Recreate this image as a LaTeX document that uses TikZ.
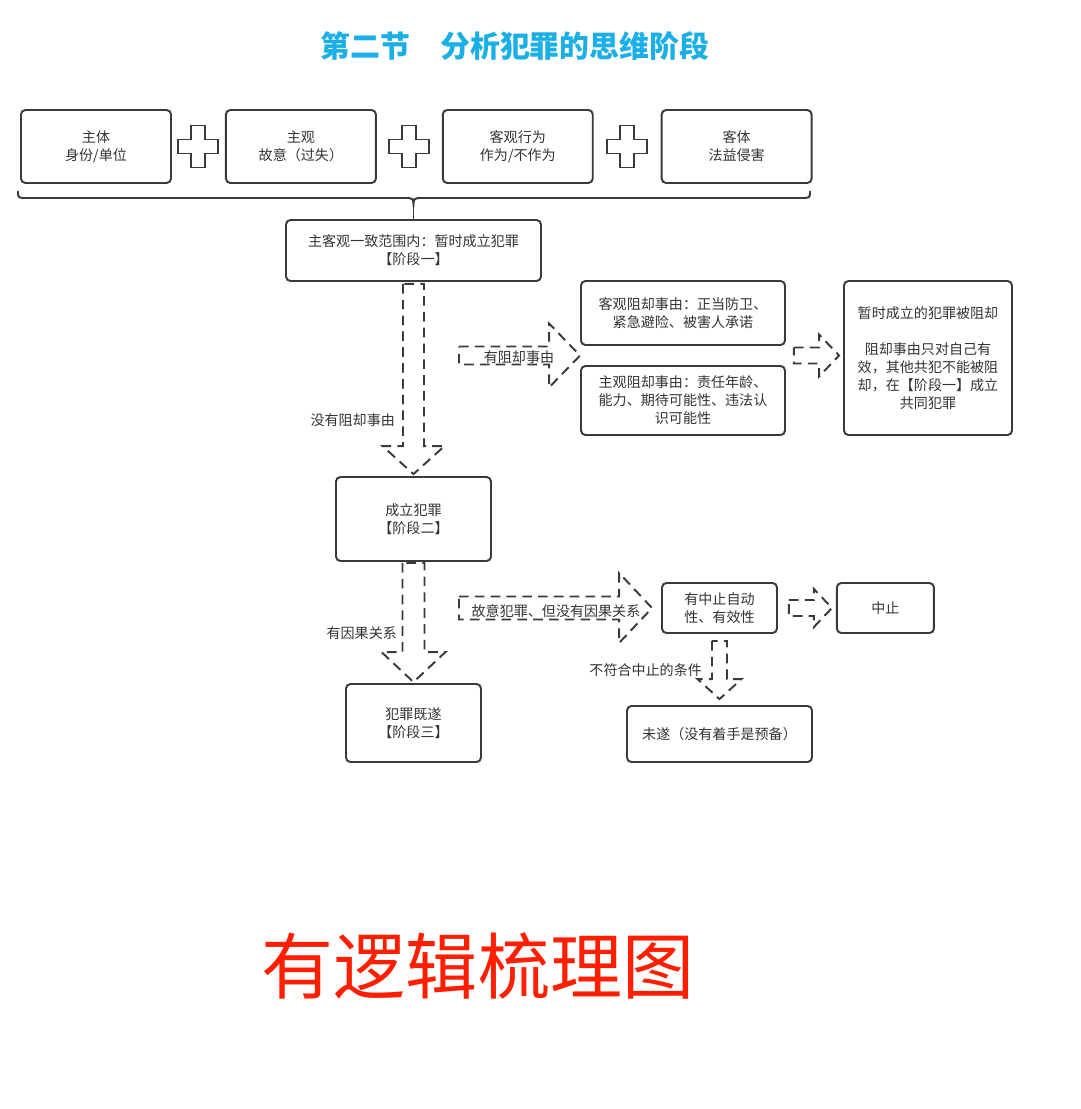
\documentclass[tikz,border=0pt]{standalone}
\usepackage{fontspec}
\setmainfont{Noto Sans CJK SC}
\usepackage{xcolor}
\usepackage{tikz}
\usetikzlibrary{positioning,calc}
\definecolor{titleblue}{HTML}{1AAFE6}
\definecolor{linegray}{HTML}{3A3A3A}
\definecolor{txtgray}{HTML}{333333}
\definecolor{logored}{HTML}{FF1E00}
\tikzset{
  box/.style={rectangle, rounded corners=2.5pt, draw=linegray, line width=1.1pt, fill=white,
    text=txtgray, align=center, font=\fontsize{8}{10.2}\selectfont, inner sep=2pt},
  lbl/.style={text=txtgray, font=\fontsize{8}{10.2}\selectfont, inner sep=1pt},
  barr/.style={draw=linegray, line width=1.1pt, dash pattern=on 5.5pt off 3.5pt, line join=miter},
  crossline/.style={draw=linegray, line width=1.1pt, fill=white},
}
% block arrows: start, tip, shaft half width, head half width, head length
\newcommand{\rblock}[5]{%
  \draw[barr] ($(#1)+(0,-#3)$) -- ($(#2)+(-#5,-#3)$) -- ($(#2)+(-#5,-#4)$) -- (#2)
    -- ($(#2)+(-#5,#4)$) -- ($(#2)+(-#5,#3)$) -- ($(#1)+(0,#3)$) -- cycle;}
\newcommand{\dblock}[5]{%
  \draw[barr] ($(#1)+(-#3,0)$) -- ($(#2)+(-#3,-#5)$) -- ($(#2)+(-#4,-#5)$) -- (#2)
    -- ($(#2)+(#4,-#5)$) -- ($(#2)+(#3,-#5)$) -- ($(#1)+(#3,0)$) -- cycle;}
\newcommand{\plusmark}[1]{%
  \draw[crossline, shift={(#1)}] (-7,-21) -- (7,-21) -- (7,-7) -- (20,-7) -- (20,7) -- (7,7)
    -- (7,21) -- (-7,21) -- (-7,7) -- (-20,7) -- (-20,-7) -- (-7,-7) -- cycle;}

\begin{document}
\begin{tikzpicture}[x=0.02cm, y=-0.02cm]
  \fill[white] (0,0) rectangle (1080,1109);
  \useasboundingbox (0,0) rectangle (1080,1109);
  % title
  \node[font=\bfseries\fontsize{17}{20}\selectfont, text=titleblue] (title) at (515,46)
    {第二节　分析犯罪的思维阶段};
  % four elements
  \node[box, minimum width=3cm, minimum height=1.46cm] (subject) at (96,146.5) {主体\\身份/单位};
  \node[box, minimum width=3cm, minimum height=1.46cm, right=1.06cm of subject] (mind) {主观\\故意（过失）};
  \node[box, minimum width=3cm, minimum height=1.46cm, right=1.3cm of mind] (act) {客观行为\\作为/不作为};
  \node[box, minimum width=3cm, minimum height=1.46cm, right=1.34cm of act] (object) {客体\\法益侵害};
  \coordinate (p1) at ($(subject.east)!0.5!(mind.west)$);
  \coordinate (p2) at ($(mind.east)!0.5!(act.west)$);
  \coordinate (p3) at ($(act.east)!0.5!(object.west)$);
  \plusmark{p1}
  \plusmark{p2}
  \plusmark{p3}
  % stage one
  \node[box, minimum width=5.1cm, minimum height=1.22cm] (stage1) at (413.5,250.5)
    {主客观一致范围内：暂时成立犯罪\\【阶段一】};
  \draw[linegray, line width=1.1pt] (18,191) .. controls (18,198) .. (27,198) -- (404,198)
    .. controls (413.5,198) .. (413.5,207) .. controls (413.5,198) .. (423,198) -- (801,198)
    .. controls (810,198) .. (810,191);
  \draw[linegray, line width=1.1pt] (413.5,207) -- (stage1.north);
  % defences
  \node[box, minimum width=4.08cm, minimum height=1.28cm] (objdef) at (683,313)
    {客观阻却事由：正当防卫、\\紧急避险、被害人承诺};
  \node[box, minimum width=4.08cm, minimum height=1.38cm] (subjdef) at (683,400.5)
    {主观阻却事由：责任年龄、\\能力、期待可能性、违法认\\识可能性};
  \node[box, minimum width=3.36cm, minimum height=3.08cm] (blocked) at (928,358)
    {暂时成立的犯罪被阻却\\[10.2pt]阻却事由只对自己有\\效，其他共犯不能被阻\\却，在【阶段一】成立\\共同犯罪};
  % stage two and three
  \node[box, minimum width=3.1cm, minimum height=1.68cm] (stage2) at (413.5,519) {成立犯罪\\【阶段二】};
  \node[box, minimum width=2.7cm, minimum height=1.56cm] (stage3) at (413.5,723) {犯罪既遂\\【阶段三】};
  \node[box, minimum width=2.3cm, minimum height=1cm] (stopq) at (719.5,608) {有中止自动\\性、有效性};
  \node[box, minimum width=1.94cm, minimum height=1cm, right=1.16cm of stopq] (stop) {中止};
  \node[box, minimum width=3.7cm, minimum height=1.12cm] (attempt) at (719.5,734) {未遂（没有着手是预备）};
  % arrows
  \dblock{$(stage1.south)+(0,2)$}{$(stage2.north)+(0,-2)$}{10.5}{31}{28}
  \node[lbl, anchor=east] (nodef) at (397,420) {没有阻却事由};
  \coordinate (defstart) at (459,355.5);
  \coordinate (deftip) at ($(objdef.south west)!0.5!(subjdef.north west)$);
  \rblock{defstart}{deftip}{9}{32}{31}
  \node[lbl] (hasdef) at (519,357) {有阻却事由};
  \coordinate (blkstart) at ($(objdef.south east)!0.5!(subjdef.north east)+(8,0)$);
  \rblock{blkstart}{$(blkstart -| blocked.west)+(-4,0)$}{8}{21}{20}
  \dblock{$(stage2.south)+(0,1)$}{$(stage3.north)+(0,-1)$}{11}{32}{30}
  \node[lbl, anchor=east] (causal) at (399,633) {有因果关系};
  \coordinate (nocstart) at (459,608);
  \rblock{nocstart}{$(stopq.west)+(-9,0)$}{11.5}{35}{33}
  \node[lbl] (nocausal) at (556,611) {故意犯罪、但没有因果关系};
  \rblock{$(stopq.east)+(11,0)$}{$(stop.west)+(-4,0)$}{8}{19}{18}
  \dblock{$(stopq.south)+(0,7)$}{$(attempt.north)+(0,-6)$}{7.5}{22}{20}
  \node[lbl, anchor=east] (nostop) at (704,670) {不符合中止的条件};
  % caption
  \node[font=\fontsize{41}{48}\selectfont, text=logored] (logo) at (478,966) {有逻辑梳理图};
\end{tikzpicture}
\end{document}
